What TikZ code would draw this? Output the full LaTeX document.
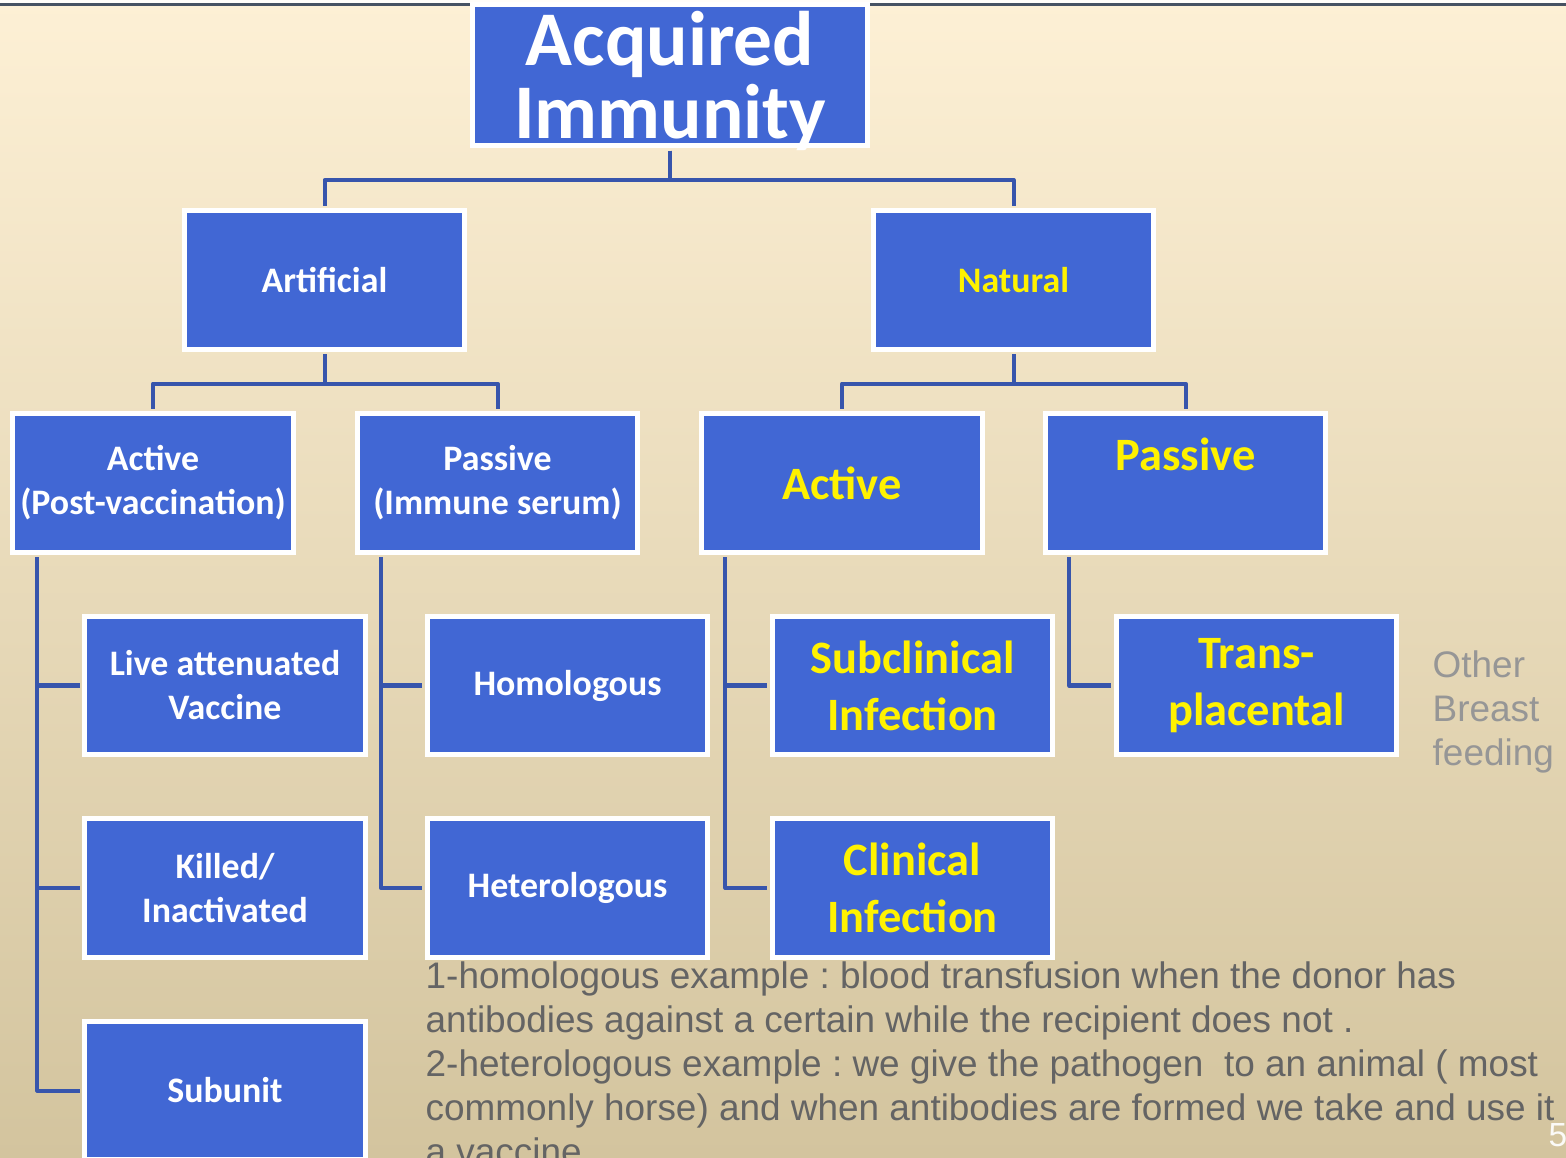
\documentclass[tikz,border=0pt]{standalone}
\usepackage{fontspec}
\newfontfamily\boxfont{Carlito}
\newfontfamily\notefont{Liberation Sans}
\usepackage{xcolor}
\usetikzlibrary{positioning}

\definecolor{boxblue}{RGB}{65,103,212}
\definecolor{linkblue}{RGB}{55,85,172}
\definecolor{notegray}{RGB}{100,100,100}
\definecolor{sidegray}{RGB}{150,150,150}
\definecolor{bgtop}{RGB}{253,240,213}
\definecolor{bgmid}{RGB}{241,233,210}
\definecolor{bgbot}{RGB}{211,196,158}
\definecolor{topline}{RGB}{70,82,98}

\tikzset{
  box/.style={fill=boxblue, draw=white, line width=0.05cm, minimum width=2.8cm,
    minimum height=1.38cm, inner sep=0pt, align=center, text=white,
    font=\boxfont\bfseries\fontsize{10.2}{12.5}\selectfont},
  bigbox/.style={box, text=yellow, font=\boxfont\bfseries\fontsize{13.2}{16.2}\selectfont},
  link/.style={linkblue, line width=0.04cm, line join=round,
    shorten <=0.025cm, shorten >=0.025cm},
  note/.style={inner sep=0pt, align=left, text=notegray,
    font=\notefont\frenchspacing\fontsize{10.5}{12.5}\selectfont},
}

\begin{document}
\begin{tikzpicture}[x=0.01cm, y=-0.01cm]
    \useasboundingbox (0,0) rectangle (1566,1158);
    \clip (0,0) rectangle (1566,1158);

    % Background
    \shade[top color=bgtop, middle color=bgmid, bottom color=bgbot] (0,0) rectangle (1566,1158);
    \fill[white!85!bgtop] (0,0) rectangle (1566,4);
    \draw[topline, line width=0.03cm] (0,5) -- (1566,5);

    % Top
    \node[box, minimum width=3.95cm, minimum height=1.41cm, text depth=0pt,
      font=\boxfont\bfseries\fontsize{22}{20.8}\selectfont] (acq) at (670,75) {Acquired\\Immunity};

    \node[box] (art) at (324.5,280) {Artificial};
    \node[box, text=yellow] (nat) at (1013.5,280) {Natural};

    % Second row
    \node[box] (actv) at (153,483) {Active\\(Post-vaccination)};
    \node[box] (pasv) at (497.5,483) {Passive\\(Immune serum)};
    \node[bigbox] (nact) at (842,483) {Active};
    \node[bigbox] (npas) at (1185.5,483) {Passive\\~};

    % Third row
    \node[box] (live) at (225,685.5) {Live attenuated\\Vaccine};
    \node[box] (homo) at (567.5,685.5) {Homologous};
    \node[bigbox] (subc) at (912.5,685.5) {Subclinical\\Infection};
    \node[bigbox] (trans) at (1256.5,685.5) {Trans-\\placental};

    % Fourth row
    \node[box] (kill) at (225,888) {Killed/\\Inactivated};
    \node[box] (hetero) at (567.5,888) {Heterologous};
    \node[bigbox] (clin) at (912.5,888) {Clinical\\Infection};

    \node[box] (sub) at (225,1090.5) {Subunit};

    % Links
    \draw[link] (acq.south) -- ++(0,32) -| (art.north);
    \draw[link] (acq.south) -- ++(0,32) -| (nat.north);
    \draw[link] (art.south) -- ++(0,32) -| (actv.north);
    \draw[link] (art.south) -- ++(0,32) -| (pasv.north);
    \draw[link] (nat.south) -- ++(0,32) -| (nact.north);
    \draw[link] (nat.south) -- ++(0,32) -| (npas.north);

    \draw[link] ([xshift=0.27cm]actv.south west) |- (live.west);
    \draw[link] ([xshift=0.27cm]actv.south west) |- (kill.west);
    \draw[link] ([xshift=0.27cm]actv.south west) |- (sub.west);
    \draw[link] ([xshift=0.26cm]pasv.south west) |- (homo.west);
    \draw[link] ([xshift=0.26cm]pasv.south west) |- (hetero.west);
    \draw[link] ([xshift=0.26cm]nact.south west) |- (subc.west);
    \draw[link] ([xshift=0.26cm]nact.south west) |- (clin.west);
    \draw[link] ([xshift=0.26cm]npas.south west) |- (trans.west);

    % Side text
    \node[note, text=sidegray, anchor=north west] (other) at (1432,650) {Other\\Breast\\feeding};

    % Examples
    \node[note, anchor=north west] (examples) at (425,961)
      {1-homologous example : blood transfusion when the donor has\\
       antibodies against a certain while the recipient does not .\\
       2-heterologous example : we give the pathogen~ to an animal ( most\\
       commonly horse) and when antibodies are formed we take and use it\\
       a vaccine};

    \node[text=white!92!bgbot, font=\notefont\fontsize{9.5}{11}\selectfont] (pnum) at (1558,1135) {5};
\end{tikzpicture}
\end{document}
